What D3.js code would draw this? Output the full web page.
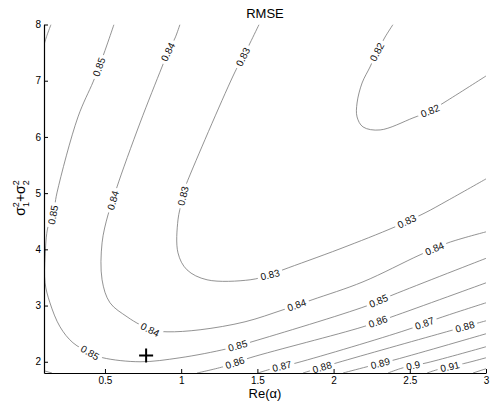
<!DOCTYPE html>
<html>
<head>
<meta charset="utf-8">
<script src="https://cdn.jsdelivr.net/npm/d3@7"></script>
<style>
body { margin: 0; background: #fff; }
svg { display: block; font-family: "Liberation Sans", Arial, Helvetica, sans-serif; }
</style>
</head>
<body>
<svg width="490" height="403"></svg>
<script>
// axis ticks
var xTicks = [0.5, 1, 1.5, 2, 2.5, 3];
var yTicks = [2, 3, 4, 5, 6, 7, 8];
// minimum marker
var bestPoint = [0.77, 2.11];

// contour lines as [Re(alpha), sigma1^2+sigma2^2]
var c082 = [[2.39, 8.0], [2.338, 7.778], [2.285, 7.511], [2.239, 7.244], [2.187, 6.96], [2.154, 6.604],
    [2.154, 6.356], [2.193, 6.178], [2.305, 6.124], [2.521, 6.338], [2.633, 6.462], [2.731, 6.622], [3.0, 7.084]];
var c083 = [[1.511, 8.0], [1.452, 7.671], [1.406, 7.422], [1.353, 7.156], [1.058, 5.324], [1.025, 5.093],
    [1.006, 4.871], [0.979, 4.524], [0.979, 3.938], [1.038, 3.636], [1.17, 3.458], [1.452, 3.458],
    [1.583, 3.547], [1.668, 3.636], [2.042, 4.009], [2.403, 4.4], [2.6, 4.649], [2.744, 4.862], [3.0, 5.253]];
var c084 = [[0.992, 8.0], [0.96, 7.76], [0.914, 7.511], [0.874, 7.244], [0.73, 6.249], [0.579, 5.111],
    [0.553, 4.871], [0.52, 4.613], [0.481, 4.116], [0.481, 3.458], [0.533, 3.049], [0.645, 2.8],
    [0.73, 2.658], [0.796, 2.569], [0.907, 2.533], [1.124, 2.569], [1.419, 2.711], [1.668, 2.924],
    [1.859, 3.102], [2.193, 3.422], [2.567, 3.902], [2.751, 4.116], [3.0, 4.311]];
var c085a = [[0.146, 8.0], [0.12, 7.81], [0.1, 7.64]];
var c085b = [[0.559, 8.0], [0.513, 7.636], [0.461, 7.244], [0.422, 6.978], [0.323, 6.356], [0.185, 5.004],
    [0.159, 4.613], [0.126, 4.4], [0.107, 3.867], [0.107, 3.404], [0.139, 3.049], [0.205, 2.622],
    [0.29, 2.338], [0.402, 2.16], [0.487, 2.071], [0.73, 2.0], [0.992, 2.071], [1.301, 2.231],
    [1.465, 2.356], [2.219, 2.996], [2.39, 3.191], [3.0, 3.84]];
var c086a = [[0.1, 1.84], [0.152, 1.8]];
var c086b = [[1.104, 1.8], [1.275, 1.911], [1.452, 2.071], [2.193, 2.622], [2.383, 2.8], [3.0, 3.404]];
var c087 = [[1.504, 1.8], [1.596, 1.876], [1.76, 1.982], [2.482, 2.569], [2.698, 2.782], [3.0, 3.049]];
var c088 = [[1.799, 1.8], [2.023, 1.982], [2.718, 2.516], [3.0, 2.729]];
var c089 = [[2.062, 1.8], [2.219, 1.911], [2.403, 2.036], [3.0, 2.498]];
var c090 = [[2.357, 1.8], [2.456, 1.893], [2.613, 1.982], [3.0, 2.267]];
var c091 = [[2.613, 1.8], [2.679, 1.858], [2.876, 1.982], [3.0, 2.071]];
var c092 = [[2.915, 1.8], [3.0, 1.876]];

// inline label positions
var lab082 = [[2.285, 7.511], [2.633, 6.462]];
var lab083 = [[1.406, 7.422], [1.012, 4.951], [1.583, 3.547], [2.482, 4.489]];
var lab084 = [[0.914, 7.511], [0.553, 4.871], [0.796, 2.569], [1.76, 2.996], [2.666, 3.991]];
var lab085 = [[0.461, 7.244], [0.159, 4.613], [0.402, 2.16], [1.373, 2.267], [2.292, 3.102]];
var lab086 = [[1.353, 1.982], [2.292, 2.711]];
var lab087 = [[1.662, 1.911], [2.6, 2.658]];
var lab088 = [[1.924, 1.911], [2.862, 2.622]];
var lab089 = [[2.305, 1.982]];
var lab090 = [[2.521, 1.947]];
var lab091 = [[2.764, 1.911]];

var contours = [
    {level: 0.82, pts: c082, labels: lab082},
    {level: 0.83, pts: c083, labels: lab083},
    {level: 0.84, pts: c084, labels: lab084},
    {level: 0.85, pts: c085a, labels: []},
    {level: 0.85, pts: c085b, labels: lab085},
    {level: 0.86, pts: c086a, labels: []},
    {level: 0.86, pts: c086b, labels: lab086},
    {level: 0.87, pts: c087, labels: lab087},
    {level: 0.88, pts: c088, labels: lab088},
    {level: 0.89, pts: c089, labels: lab089},
    {level: 0.9, pts: c090, labels: lab090},
    {level: 0.91, pts: c091, labels: lab091},
    {level: 0.92, pts: c092, labels: []}
];

var svg = d3.select("svg")
    , plotL = 44, plotR = 486, plotT = 24.5, plotB = 373;

var x = d3.scaleLinear().domain([0.1, 3]).range([plotL, plotR]);
var y = d3.scaleLinear().domain([1.8, 8]).range([plotB, plotT]);

svg.append("clipPath").attr("id", "plot").append("rect")
    .attr("x", plotL).attr("y", plotT).attr("width", plotR - plotL).attr("height", plotB - plotT);

var line = d3.line()
    .x(function (d) { return x(d[0]); })
    .y(function (d) { return y(d[1]); })
    .curve(d3.curveCatmullRom.alpha(0.5));

var lines = svg.append("g").attr("clip-path", "url(#plot)");
lines.selectAll("path").data(contours).enter().append("path")
    .attr("d", function (d) { return line(d.pts); })
    .attr("fill", "none")
    .attr("stroke", "#777")
    .attr("stroke-width", 0.8);

// labels sit on the nearest segment, rotated along it, with a white gap behind
var labelLayer = svg.append("g");
contours.forEach(function (c) {
    var px = c.pts.map(function (p) { return [x(p[0]), y(p[1])]; });
    c.labels.forEach(function (l) {
        var lx = x(l[0]), ly = y(l[1]);
        var bestD = Infinity, qxBest = lx, qyBest = ly, ang = 0;
        for (var i = 0; i < px.length - 1; i++) {
            var ax = px[i][0], ay = px[i][1], dx = px[i + 1][0] - ax, dy = px[i + 1][1] - ay;
            var t = ((lx - ax) * dx + (ly - ay) * dy) / (dx * dx + dy * dy);
            t = Math.max(0, Math.min(1, t));
            var qx = ax + t * dx, qy = ay + t * dy;
            var dd = (qx - lx) * (qx - lx) + (qy - ly) * (qy - ly);
            if (dd < bestD) { bestD = dd; qxBest = qx; qyBest = qy; ang = Math.atan2(dy, dx) * 180 / Math.PI; }
        }
        if (ang > 90) ang -= 180;
        if (ang < -90) ang += 180;
        var g = labelLayer.append("g").attr("transform", "translate(" + qxBest + "," + qyBest + ")rotate(" + ang + ")");
        var r = g.append("rect").attr("fill", "#fff");
        var txt = g.append("text")
            .attr("text-anchor", "middle")
            .attr("dy", "0.35em")
            .attr("font-size", 10)
            .attr("fill", "#111")
            .text(String(c.level));
        var w = txt.node().getComputedTextLength();
        r.attr("x", -w / 2 - 3).attr("y", -5).attr("width", w + 6).attr("height", 10);
    });
});

// minimum marker
var mx = x(bestPoint[0]), my = y(bestPoint[1]);
svg.append("path")
    .attr("d", "M" + (mx - 7) + "," + my + "H" + (mx + 7) + "M" + mx + "," + (my - 7) + "V" + (my + 7))
    .attr("stroke", "#000").attr("stroke-width", 2).attr("fill", "none");

// axes (MATLAB style: inward ticks, no box)
var xAxis = svg.append("g").attr("transform", "translate(0," + plotB + ")")
    .call(d3.axisBottom(x).tickValues(xTicks).tickSizeInner(-4).tickSizeOuter(0).tickPadding(4)
        .tickFormat(function (d) { return d; }));
var yAxis = svg.append("g").attr("transform", "translate(" + plotL + ",0)")
    .call(d3.axisLeft(y).tickValues(yTicks).tickSizeInner(-4).tickSizeOuter(0).tickPadding(3)
        .tickFormat(function (d) { return d; }));
[xAxis, yAxis].forEach(function (a) {
    a.attr("font-family", null).attr("font-size", 10);
    a.select(".domain").attr("stroke", "#000").attr("stroke-width", 1.2);
    a.selectAll(".tick line").attr("stroke", "#000");
    a.selectAll(".tick text").attr("fill", "#000");
});

// title and axis labels
svg.append("text").attr("x", (plotL + plotR) / 2).attr("y", 18)
    .attr("text-anchor", "middle").attr("font-size", 13).text("RMSE");
svg.append("text").attr("x", (plotL + plotR) / 2).attr("y", 398)
    .attr("text-anchor", "middle").attr("font-size", 13).text("Re(α)");

var yl = svg.append("text").attr("transform", "translate(25,198)rotate(-90)")
    .attr("text-anchor", "middle").attr("font-size", 14);
yl.append("tspan").text("σ");
yl.append("tspan").attr("font-size", 9).attr("dy", -6).text("2");
yl.append("tspan").attr("font-size", 9).attr("dx", -5).attr("dy", 10).text("1");
yl.append("tspan").attr("dy", -4).text("+σ");
yl.append("tspan").attr("font-size", 9).attr("dy", -6).text("2");
yl.append("tspan").attr("font-size", 9).attr("dx", -5).attr("dy", 10).text("2");
</script>
</body>
</html>
